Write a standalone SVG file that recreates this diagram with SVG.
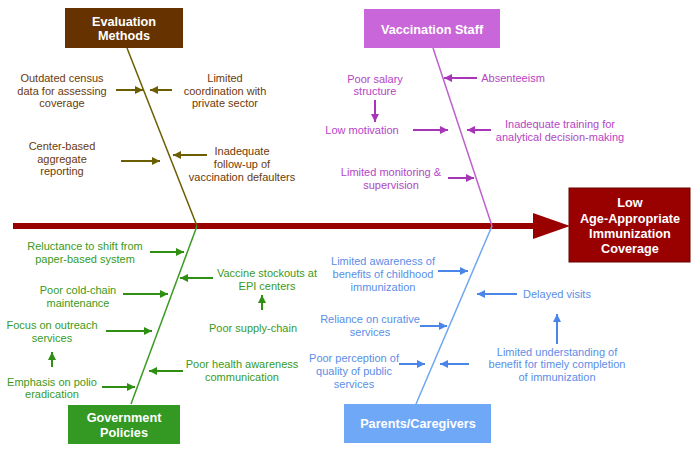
<svg xmlns="http://www.w3.org/2000/svg" width="699" height="453" viewBox="0 0 699 453">
<defs>
<style>
text{font-family:"Liberation Sans",Arial,sans-serif;font-size:11px;text-anchor:middle}
.t{font-weight:bold;font-size:12.7px;fill:#fff}
.ev{fill:#6b3a0a}.vs{fill:#b545c5}.gp{fill:#3a9a22}.pc{fill:#5b8ee6}
.aev{stroke:#6b5e00;stroke-width:2;fill:none;marker-end:url(#mev)}
.avs{stroke:#a834b8;stroke-width:2;fill:none;marker-end:url(#mvs)}
.agp{stroke:#2e8f12;stroke-width:2;fill:none;marker-end:url(#mgp)}
.apc{stroke:#4a86e8;stroke-width:2;fill:none;marker-end:url(#mpc)}
</style>
<marker id="mev" markerUnits="userSpaceOnUse" markerWidth="10" markerHeight="10" refX="8" refY="4" orient="auto"><path d="M0,0 L8,4 L0,8 Z" fill="#6b5e00"/></marker>
<marker id="mvs" markerUnits="userSpaceOnUse" markerWidth="10" markerHeight="10" refX="8" refY="4" orient="auto"><path d="M0,0 L8,4 L0,8 Z" fill="#a834b8"/></marker>
<marker id="mgp" markerUnits="userSpaceOnUse" markerWidth="10" markerHeight="10" refX="8" refY="4" orient="auto"><path d="M0,0 L8,4 L0,8 Z" fill="#2e8f12"/></marker>
<marker id="mpc" markerUnits="userSpaceOnUse" markerWidth="10" markerHeight="10" refX="8" refY="4" orient="auto"><path d="M0,0 L8,4 L0,8 Z" fill="#4a86e8"/></marker>
</defs>
<rect width="699" height="453" fill="#fff"/>
<g id="connectors">
<line x1="13" y1="226" x2="536" y2="226" stroke="#990000" stroke-width="6"/>
<polygon points="533,213 570,226 533,239" fill="#990000"/>
<line x1="127" y1="48" x2="197" y2="226" stroke="#6b5e00" stroke-width="1.5"/>
<line x1="433" y1="48" x2="492" y2="226" stroke="#c060d0" stroke-width="1.5"/>
<line x1="197" y1="226" x2="131" y2="404" stroke="#3a9a22" stroke-width="1.5"/>
<line x1="492" y1="226" x2="416" y2="404" stroke="#6fa8f0" stroke-width="1.5"/>
<path class="aev" d="M116,90 H143"/>
<path class="aev" d="M172,90 H150"/>
<path class="aev" d="M121,161 H160"/>
<path class="aev" d="M207,155 H173"/>
<path class="avs" d="M477,78 H444"/>
<path class="avs" d="M375,100 V122"/>
<path class="avs" d="M413,130 H448"/>
<path class="avs" d="M491,130 H467"/>
<path class="avs" d="M448,178 H474"/>
<path class="agp" d="M150,252 H184"/>
<path class="agp" d="M213,278 H180"/>
<path class="agp" d="M262,310 V295"/>
<path class="agp" d="M123,294 H168"/>
<path class="agp" d="M106,331 H152"/>
<path class="agp" d="M52,367 V352"/>
<path class="agp" d="M102,387 H135"/>
<path class="agp" d="M183,371 H149"/>
<path class="apc" d="M438,271 H468"/>
<path class="apc" d="M517,294 H477"/>
<path class="apc" d="M557,344 V314"/>
<path class="apc" d="M420,326 H447"/>
<path class="apc" d="M399,364 H425"/>
<path class="apc" d="M469,364 H440"/>
</g>
<g id="evaluation-methods">
<rect x="65" y="8" width="118" height="40" fill="#663300"/>
<text class="t" x="124" y="26">Evaluation</text>
<text class="t" x="124" y="40">Methods</text>
</g>
<g id="ev-causes" class="ev">
<text class="ev" x="62" y="82">Outdated census</text>
<text class="ev" x="62" y="95">data for assessing</text>
<text class="ev" x="62" y="107">coverage</text>
<text class="ev" x="225" y="82">Limited</text>
<text class="ev" x="225" y="95">coordination with</text>
<text class="ev" x="225" y="107">private sector</text>
<text class="ev" x="62" y="150">Center-based</text>
<text class="ev" x="62" y="163">aggregate</text>
<text class="ev" x="62" y="175">reporting</text>
<text class="ev" x="242" y="155">Inadequate</text>
<text class="ev" x="242" y="168">follow-up of</text>
<text class="ev" x="242" y="181">vaccination defaulters</text>
</g>
<g id="vaccination-staff">
<rect x="364" y="9" width="136" height="39" fill="#c966d9"/>
<text class="t" x="432" y="34">Vaccination Staff</text>
</g>
<g id="vs-causes">
<text class="vs" x="375" y="83">Poor salary</text>
<text class="vs" x="375" y="95">structure</text>
<text class="vs" x="362" y="134">Low motivation</text>
<text class="vs" x="513" y="82">Absenteeism</text>
<text class="vs" x="560" y="128">Inadequate training for</text>
<text class="vs" x="560" y="141">analytical decision-making</text>
<text class="vs" x="391" y="176">Limited monitoring &amp;</text>
<text class="vs" x="391" y="189">supervision</text>
</g>
<g id="outcome">
<rect x="569" y="188" width="121" height="74" fill="#990000" stroke="#6a0000" stroke-width="1"/>
<text class="t" x="630" y="207">Low</text>
<text class="t" x="630" y="223">Age-Appropriate</text>
<text class="t" x="630" y="238">Immunization</text>
<text class="t" x="630" y="253">Coverage</text>
</g>
<g id="government-policies">
<rect x="68" y="405" width="112" height="39" fill="#339922"/>
<text class="t" x="124" y="422">Government</text>
<text class="t" x="124" y="437">Policies</text>
</g>
<g id="gp-causes">
<text class="gp" x="85" y="250">Reluctance to shift from</text>
<text class="gp" x="85" y="263">paper-based system</text>
<text class="gp" x="267" y="277">Vaccine stockouts at</text>
<text class="gp" x="267" y="290">EPI centers</text>
<text class="gp" x="253" y="332">Poor supply-chain</text>
<text class="gp" x="78" y="294">Poor cold-chain</text>
<text class="gp" x="78" y="307">maintenance</text>
<text class="gp" x="52" y="329">Focus on outreach</text>
<text class="gp" x="52" y="342">services</text>
<text class="gp" x="52" y="386">Emphasis on polio</text>
<text class="gp" x="52" y="398">eradication</text>
<text class="gp" x="242" y="368">Poor health awareness</text>
<text class="gp" x="242" y="381">communication</text>
</g>
<g id="parents-caregivers">
<rect x="344" y="404" width="147" height="39" fill="#70a8f8"/>
<text class="t" x="418" y="428">Parents/Caregivers</text>
</g>
<g id="pc-causes">
<text class="pc" x="383" y="265">Limited awareness of</text>
<text class="pc" x="383" y="278">benefits of childhood</text>
<text class="pc" x="383" y="291">immunization</text>
<text class="pc" x="557" y="298">Delayed visits</text>
<text class="pc" x="370" y="323">Reliance on curative</text>
<text class="pc" x="370" y="336">services</text>
<text class="pc" x="354" y="362">Poor perception of</text>
<text class="pc" x="354" y="375">quality of public</text>
<text class="pc" x="354" y="388">services</text>
<text class="pc" x="557" y="356">Limited understanding of</text>
<text class="pc" x="557" y="368">benefit for timely completion</text>
<text class="pc" x="557" y="381">of immunization</text>
</g>
</svg>
